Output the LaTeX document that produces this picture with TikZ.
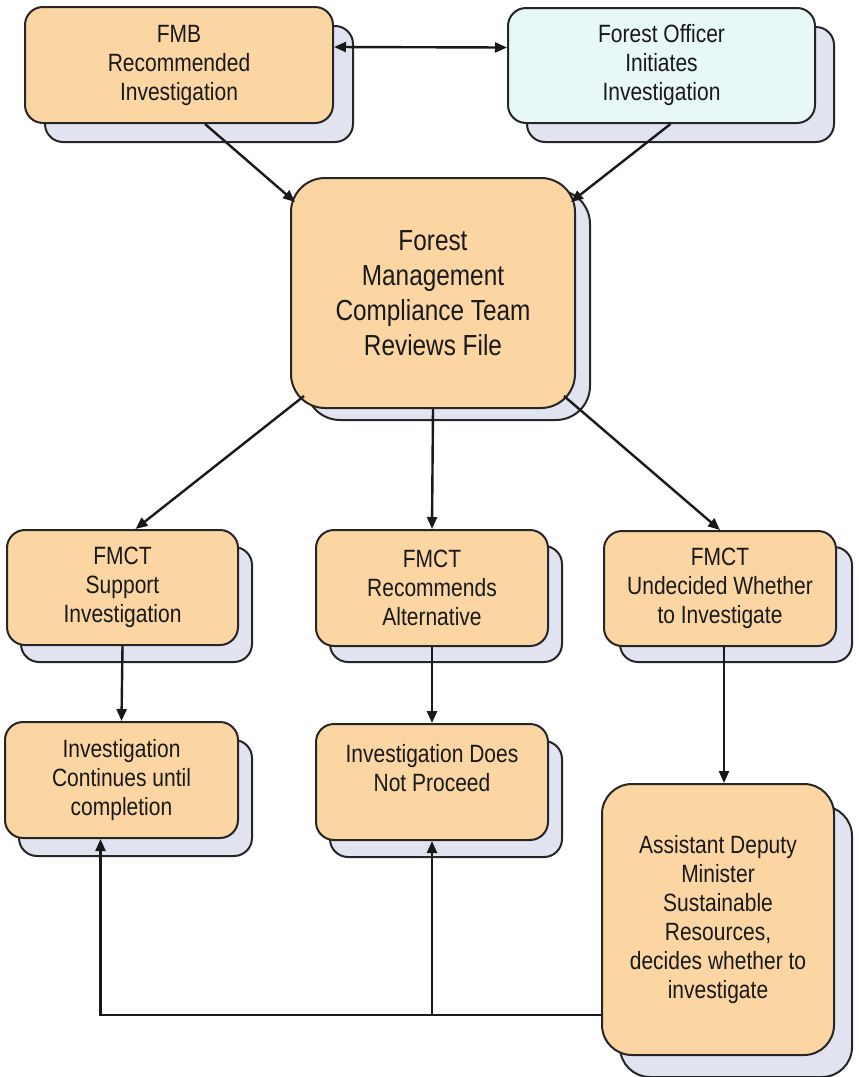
\documentclass[tikz,border=0pt]{standalone}
\usepackage{fontspec}
\setmainfont[FakeStretch=0.84]{Liberation Sans}
\usetikzlibrary{arrows.meta,shadows}
\definecolor{peach}{RGB}{251,214,163}
\definecolor{paleblue}{RGB}{232,248,247}
\definecolor{lilac}{RGB}{225,227,240}

\begin{document}
\begin{tikzpicture}[x=1pt, y=-1pt,
            stage/.style={rectangle, rounded corners=18pt, draw=black!85, line width=2pt,
                          fill=peach, align=center, text=black!90, inner sep=0pt,
                          font=\fontsize{25}{29}\selectfont},
            backed/.style 2 args={copy shadow={shadow xshift=#1, shadow yshift=-#2,
                          fill=lilac, draw=black!85, line width=2pt}},
            flow/.style={line width=2.4pt, draw=black!90, -{Triangle[length=12pt,width=10pt]}}]
            \useasboundingbox (0,0) rectangle (859,1077);
            % starting points
            \node[stage, backed={20pt}{19pt}, minimum width=308pt, minimum height=116pt] (fmb) at (179,65)
                {FMB\\Recommended\\Investigation};
            \node[stage, backed={19pt}{19pt}, fill=paleblue, minimum width=307pt, minimum height=115pt] (officer) at (661.5,65.5)
                {Forest Officer\\Initiates\\Investigation};
            % review
            \node[stage, backed={15pt}{12pt}, rounded corners=34pt, minimum width=284pt, minimum height=230pt,
                  font=\fontsize{29}{35}\selectfont] (review) at (433,293)
                {Forest\\Management\\Compliance Team\\Reviews File};
            % outcomes
            \node[stage, backed={14pt}{17pt}, minimum width=231pt, minimum height=115pt] (support) at (122.5,587.5)
                {FMCT\\Support\\Investigation};
            \node[stage, backed={14pt}{16pt}, minimum width=232pt, minimum height=116pt] (recommend) at (432,588)
                {FMCT\\Recommends\\Alternative};
            \node[stage, backed={16pt}{16pt}, minimum width=232pt, minimum height=115pt] (undecided) at (720,588.5)
                {FMCT\\Undecided Whether\\to Investigate};
            \node[stage, backed={14pt}{18pt}, minimum width=233pt, minimum height=116pt] (continues) at (121.5,780)
                {Investigation\\Continues until\\completion};
            \node[stage, backed={14pt}{17pt}, minimum width=232pt, minimum height=116pt] (notproceed) at (432,782)
                {Investigation Does\\Not Proceed\\~};
            \node[stage, backed={18pt}{22pt}, rounded corners=30pt, minimum width=232pt, minimum height=271pt] (adm) at (718,919.5)
                {Assistant Deputy\\Minister\\Sustainable\\Resources,\\decides whether to\\investigate};
            % connectors
            \draw[flow, {Triangle[length=12pt,width=10pt]}-{Triangle[length=12pt,width=10pt]}]
                ([yshift=18pt]fmb.east) -- ([yshift=18pt]officer.west);
            \draw[flow] ([xshift=26pt]fmb.south) -- ([xshift=5pt,yshift=-25pt]review.north west);
            \draw[flow] ([xshift=9pt]officer.south) -- ([xshift=-5pt,yshift=-25pt]review.north east);
            \draw[flow] ([xshift=14pt,yshift=13pt]review.south west) -- ([xshift=13pt]support.north);
            \draw[flow] (review.south) -- (recommend.north);
            \draw[flow] ([xshift=-12pt,yshift=13pt]review.south east) -- (undecided.north);
            \draw[flow] (support.south) -- (continues.north);
            \draw[flow] (recommend.south) -- (notproceed.north);
            \draw[flow] ([xshift=4pt]undecided.south) -- ([xshift=6pt]adm.north);
            \coordinate (back) at ([yshift=-95.5pt]adm.west);
            \coordinate (split) at (notproceed.south |- back);
            \draw[flow] (back) -| ([xshift=-21pt]continues.south);
            \draw[flow] (split) -- (notproceed.south);
\end{tikzpicture}
\end{document}
